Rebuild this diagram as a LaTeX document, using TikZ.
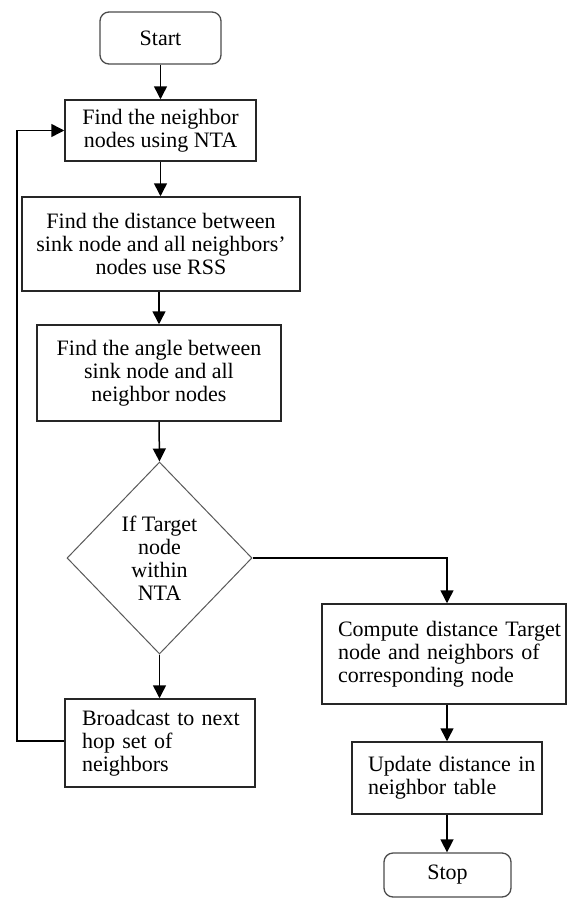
\documentclass[tikz,border=0pt]{standalone}
\usepackage{fontspec}
\setmainfont{Liberation Serif}
\usetikzlibrary{shapes.geometric,arrows.meta}
\begin{document}
\begin{tikzpicture}[x=1pt,y=-1pt,
  txt/.style={font=\fontsize{22}{23}\selectfont},
  box/.style={txt,draw=black!85,line width=1.5pt,inner sep=0pt,align=center},
  lbox/.style={txt,draw=black!85,line width=1.5pt,inner ysep=0pt,align=left},
  term/.style={txt,draw=black!70,line width=1.3pt,rounded corners=9pt,inner sep=0pt},
  decision/.style={txt,diamond,draw=black!65,line width=1pt,inner sep=0pt,align=center},
  conn/.style={line width=1.5pt,-{Triangle[length=13pt,width=13pt]}}]
\useasboundingbox (0,0) rectangle (567,899);
\fill[white] (0,0) rectangle (567,899);

\node[term,minimum width=121pt,minimum height=52pt] (start) at (160.5,38) {Start};
\node[box,minimum width=191pt,minimum height=61pt] (b1) at (160.5,130.5) {Find the neighbor\\nodes using NTA};
\node[box,minimum width=278pt,minimum height=94pt] (b2) at (161,244) {Find the distance between\\sink node and all neighbors'\\nodes use RSS};
\node[box,minimum width=244pt,minimum height=96pt] (b3) at (159,373) {Find the angle between\\sink node and all\\neighbor nodes};
\node[decision,minimum width=185pt,minimum height=192pt] (dia) at (159.5,558) {If Target\\node\\within\\NTA};
\node[lbox,inner xsep=17pt,text width=156pt,minimum height=88pt] (bc) at (160,743) {\mbox{Broadcast to next}\\\mbox{hop set of}\\\mbox{neighbors}};
\node[lbox,inner xsep=16pt,text width=212pt,minimum height=100pt] (comp) at (444,654) {\mbox{Compute distance Target}\\\mbox{node and neighbors of}\\\mbox{corresponding node}\\[5pt]};
\node[lbox,inner xsep=16pt,text width=158pt,minimum height=72pt] (upd) at (447,778) {\mbox{Update distance in}\\\mbox{neighbor table}};
\node[term,minimum width=127pt,minimum height=44pt] (stop) at (447.5,875) {Stop};

\draw[conn] (start.south) -- (b1.north);
\draw[conn] (b1.south) -- (b1.south |- b2.north);
\draw[conn] (b2.south -| b3.north) -- (b3.north);
\draw[conn] (b3.south) -- (dia.north);
\draw[conn] (dia.south) -- (dia.south |- bc.north);
\coordinate (turn) at (447,558);
\draw[conn] (dia.east) -- (turn) -- (turn |- comp.north);
\draw[conn] (upd.north |- comp.south) -- (upd.north);
\draw[conn] (upd.south) -- (upd.south |- stop.north);
\coordinate (loopc) at (17,741);
\draw[conn] (bc.west |- loopc) -- (loopc) |- (b1.west);
\end{tikzpicture}
\end{document}
